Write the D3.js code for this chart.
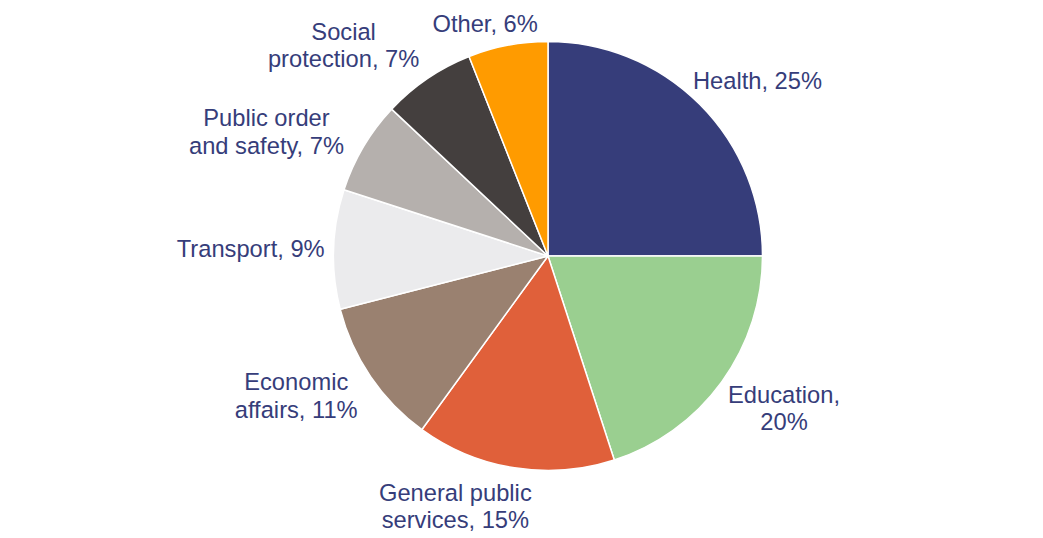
<!DOCTYPE html>
<html>
<head>
<meta charset="utf-8">
<script src="https://cdn.jsdelivr.net/npm/d3@7"></script>
<style>
  html, body { margin: 0; padding: 0; background: #fff; }
  svg { display: block; }
  .label { font-family: "Liberation Sans", Arial, sans-serif; font-size: 23.7px; fill: #363D7A; }
</style>
</head>
<body>
<svg id="chart" width="1043" height="538"></svg>
<script>
// ------------------------------------------------------
// DATA
// ------------------------------------------------------

var categories = ['Health', 'Education', 'General public services', 'Economic affairs',
                  'Transport', 'Public order and safety', 'Social protection', 'Other'];
var shares = [25, 20, 15, 11, 9, 7, 7, 6];
// label text, one entry per line
var labelLines = [
    ['Health, 25%'],
    ['Education,', '20%'],
    ['General public', 'services, 15%'],
    ['Economic', 'affairs, 11%'],
    ['Transport, 9%'],
    ['Public order', 'and safety, 7%'],
    ['Social', 'protection, 7%'],
    ['Other, 6%']
];
var colors = ['#363D7A', '#9ACF90', '#E0603A', '#9A8170', '#EBEBED', '#B5B0AD', '#443F3E', '#FF9B00'];

// small hand tweaks, like the spreadsheet does to keep labels clear
var labelNudge = [[-2, -1], [1, -1], [-44, -7], [-7, -7], [11, 0], [-13, 8], [-30, 4], [-9, 10]];

// ------------------------------------------------------
// DRAW PIE
// ------------------------------------------------------

var svg = d3.select('#chart');
var cx = 548, cy = 256, radius = 214.5;
var lineHeight = 27.5;

var data = categories.map(function (c, i) {
    return {name: c, value: shares[i], lines: labelLines[i], color: colors[i], nudge: labelNudge[i]};
});

var pie = d3.pie().sort(null).value(function (d) { return d.value; });
var arc = d3.arc().innerRadius(0).outerRadius(radius);

var g = svg.append('g').attr('transform', 'translate(' + cx + ',' + cy + ')');
var arcs = pie(data);

g.selectAll('path.slice')
    .data(arcs)
    .enter().append('path')
    .attr('class', 'slice')
    .attr('d', arc)
    .attr('fill', function (d) { return d.data.color; })
    .attr('stroke', '#fff')
    .attr('stroke-width', 1.5)
    .attr('stroke-linejoin', 'round');

// ------------------------------------------------------
// LABELS (outside end)
// ------------------------------------------------------

var labels = g.selectAll('text.label')
    .data(arcs)
    .enter().append('text')
    .attr('class', 'label')
    .attr('text-anchor', 'middle');

labels.each(function (d) {
    var t = d3.select(this);
    d.data.lines.forEach(function (line, j) {
        t.append('tspan').attr('x', 0).attr('dy', j === 0 ? 0 : lineHeight).text(line);
    });
    var box = this.getBBox();
    var a = (d.startAngle + d.endAngle) / 2;
    var ux = Math.sin(a), uy = -Math.cos(a);
    var h = 24 + lineHeight * (d.data.lines.length - 1);
    var ax = ux * (radius + 20), ay = uy * (radius + 20);
    var mx = ax + ux * box.width / 2 + d.data.nudge[0];
    var my = ay + uy * h / 2 + d.data.nudge[1];
    // first baseline so the block is centred on (mx, my)
    var firstBase = my - lineHeight * (d.data.lines.length - 1) / 2 + 8.5;
    t.attr('transform', 'translate(' + mx + ',' + firstBase + ')');
});
</script>
</body>
</html>
